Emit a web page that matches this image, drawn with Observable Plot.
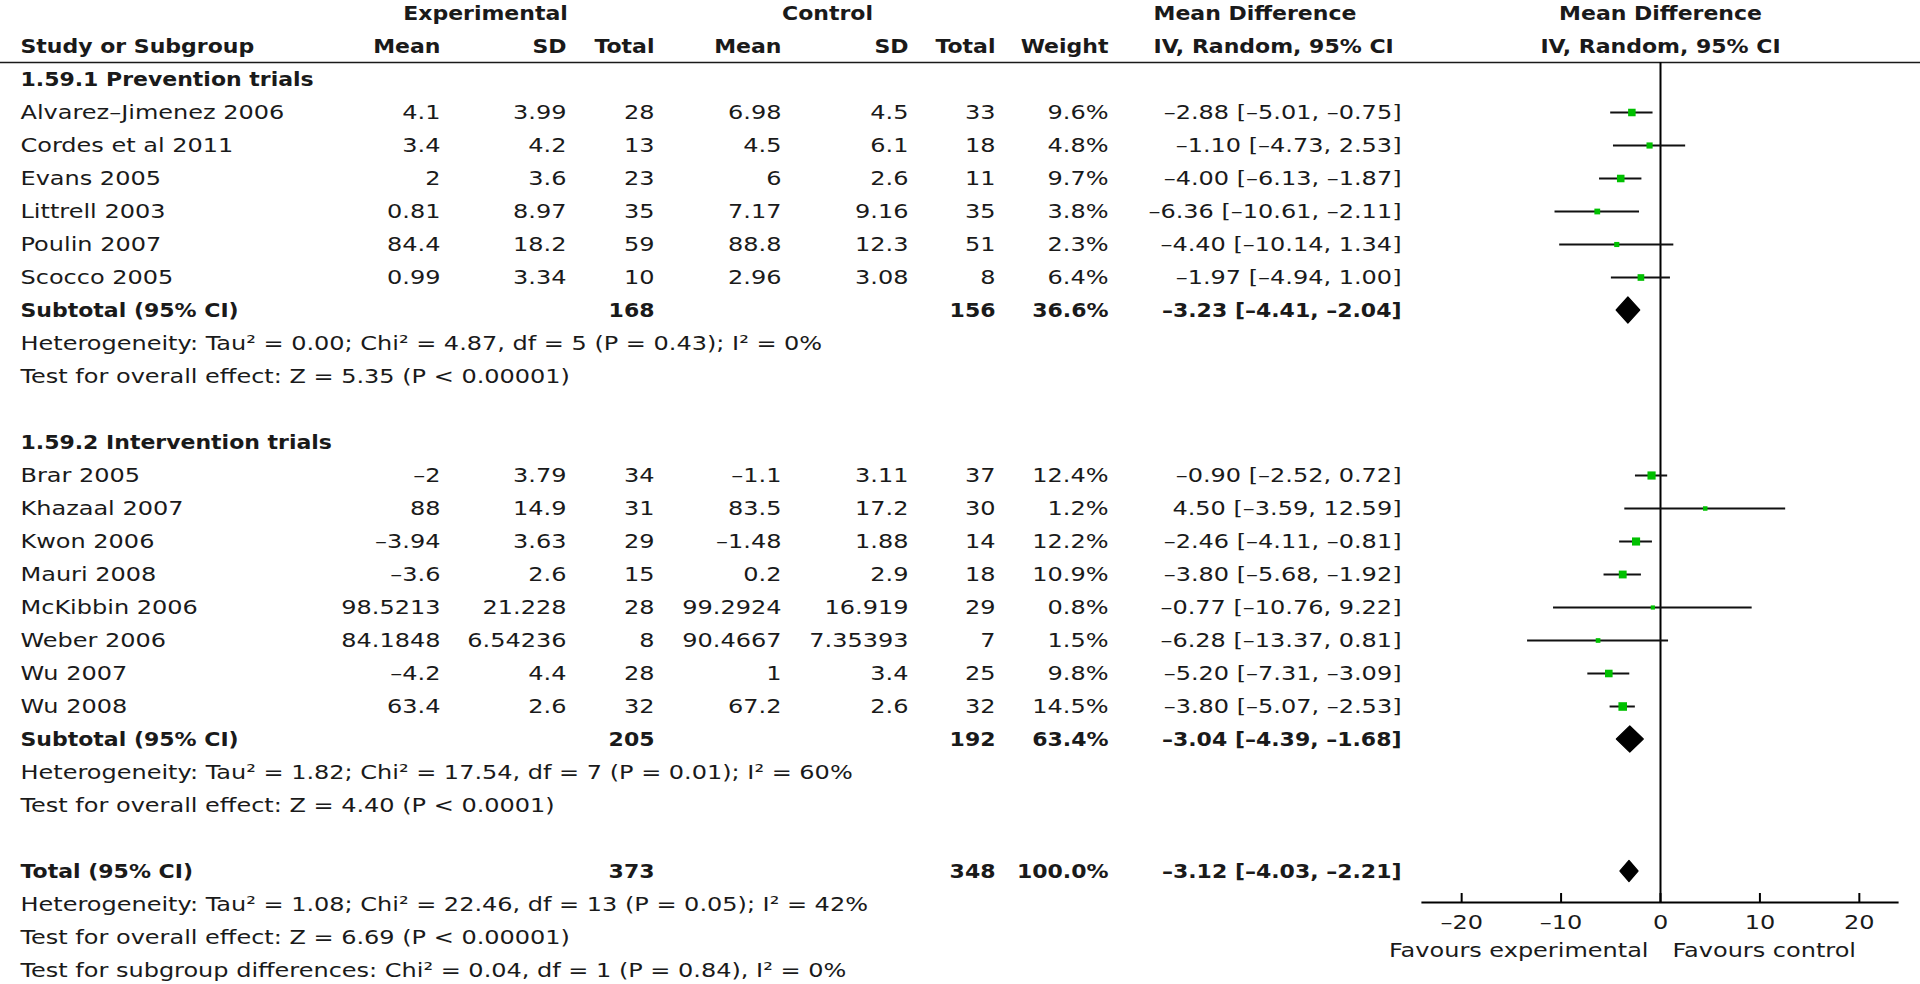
<!DOCTYPE html>
<html><head><meta charset="utf-8">
<script src="https://cdn.jsdelivr.net/npm/d3@7"></script>
<script src="https://cdn.jsdelivr.net/npm/@observablehq/plot@0.6"></script>
<style>
html,body{margin:0;padding:0;background:#fff;overflow:hidden;}
#chart svg{display:block;}
</style></head><body><div id="chart"></div>
<script>
// ---------- data ----------
const groupNames = ["1.59.1 Prevention trials", "1.59.2 Intervention trials"];
const studyNames = ["Alvarez–Jimenez 2006", "Cordes et al 2011", "Evans 2005", "Littrell 2003", "Poulin 2007", "Scocco 2005",
  "Brar 2005", "Khazaal 2007", "Kwon 2006", "Mauri 2008", "McKibbin 2006", "Weber 2006", "Wu 2007", "Wu 2008"];
const studyGroup = [0, 0, 0, 0, 0, 0, 1, 1, 1, 1, 1, 1, 1, 1];
const expMean  = [4.1, 3.4, 2, 0.81, 84.4, 0.99, -2, 88, -3.94, -3.6, 98.5213, 84.1848, -4.2, 63.4];
const expSD    = [3.99, 4.2, 3.6, 8.97, 18.2, 3.34, 3.79, 14.9, 3.63, 2.6, 21.228, 6.54236, 4.4, 2.6];
const expTotal = [28, 13, 23, 35, 59, 10, 34, 31, 29, 15, 28, 8, 28, 32];
const ctrlMean = [6.98, 4.5, 6, 7.17, 88.8, 2.96, -1.1, 83.5, -1.48, 0.2, 99.2924, 90.4667, 1, 67.2];
const ctrlSD   = [4.5, 6.1, 2.6, 9.16, 12.3, 3.08, 3.11, 17.2, 1.88, 2.9, 16.919, 7.35393, 3.4, 2.6];
const ctrlTotal = [33, 18, 11, 35, 51, 8, 37, 30, 14, 18, 29, 7, 25, 32];
const weights  = [9.6, 4.8, 9.7, 3.8, 2.3, 6.4, 12.4, 1.2, 12.2, 10.9, 0.8, 1.5, 9.8, 14.5];
const md       = [-2.88, -1.10, -4.00, -6.36, -4.40, -1.97, -0.90, 4.50, -2.46, -3.80, -0.77, -6.28, -5.20, -3.80];
const mdLower  = [-5.01, -4.73, -6.13, -10.61, -10.14, -4.94, -2.52, -3.59, -4.11, -5.68, -10.76, -13.37, -7.31, -5.07];
const mdUpper  = [-0.75, 2.53, -1.87, -2.11, 1.34, 1.00, 0.72, 12.59, -0.81, -1.92, 9.22, 0.81, -3.09, -2.53];

const subtotalExpTotal  = [168, 205];
const subtotalCtrlTotal = [156, 192];
const subtotalWeight    = [36.6, 63.4];
const subtotalMD        = [-3.23, -3.04];
const subtotalLower     = [-4.41, -4.39];
const subtotalUpper     = [-2.04, -1.68];
const heterogeneityText = [
  "Heterogeneity: Tau² = 0.00; Chi² = 4.87, df = 5 (P = 0.43); I² = 0%",
  "Heterogeneity: Tau² = 1.82; Chi² = 17.54, df = 7 (P = 0.01); I² = 60%"];
const overallEffectText = [
  "Test for overall effect: Z = 5.35 (P < 0.00001)",
  "Test for overall effect: Z = 4.40 (P < 0.0001)"];

const totalExpTotal = [373];
const totalCtrlTotal = [348];
const totalWeight = [100.0];
const totalMD = [-3.12];
const totalLower = [-4.03];
const totalUpper = [-2.21];
const totalNotes = [
  "Heterogeneity: Tau² = 1.08; Chi² = 22.46, df = 13 (P = 0.05); I² = 42%",
  "Test for overall effect: Z = 6.69 (P < 0.00001)",
  "Test for subgroup differences: Chi² = 0.04, df = 1 (P = 0.84), I² = 0%"];

const xTicks = [-20, -10, 0, 10, 20];
const axisLabels = ["Favours experimental", "Favours control"];

// ---------- formatting ----------
const dash = s => String(s).replace(/-/g, "–");
const f2 = v => dash(v.toFixed(2));
const ciText = (m, l, u) => `${f2(m)} [${f2(l)}, ${f2(u)}]`;
const wText = v => v.toFixed(1) + "%";

// ---------- table rows ----------
const rows = [];
let r = 0;
groupNames.forEach((g, gi) => {
  rows.push({row: r++, kind: "group", label: g});
  studyNames.forEach((n, i) => {
    if (studyGroup[i] !== gi) return;
    rows.push({row: r++, kind: "study", label: n,
      em: dash(expMean[i]), es: dash(expSD[i]), et: String(expTotal[i]),
      cm: dash(ctrlMean[i]), cs: dash(ctrlSD[i]), ct: String(ctrlTotal[i]),
      wt: wText(weights[i]), ci: ciText(md[i], mdLower[i], mdUpper[i]),
      est: md[i], lo: mdLower[i], hi: mdUpper[i], w: weights[i]});
  });
  rows.push({row: r++, kind: "subtotal", label: "Subtotal (95% CI)",
    et: String(subtotalExpTotal[gi]), ct: String(subtotalCtrlTotal[gi]),
    wt: wText(subtotalWeight[gi]), ci: ciText(subtotalMD[gi], subtotalLower[gi], subtotalUpper[gi]),
    est: subtotalMD[gi], lo: subtotalLower[gi], hi: subtotalUpper[gi], h: 13 / 33});
  rows.push({row: r++, kind: "note", label: heterogeneityText[gi]});
  rows.push({row: r++, kind: "note", label: overallEffectText[gi]});
  r++;
});
rows.push({row: r++, kind: "total", label: "Total (95% CI)",
  et: String(totalExpTotal[0]), ct: String(totalCtrlTotal[0]),
  wt: wText(totalWeight[0]), ci: ciText(totalMD[0], totalLower[0], totalUpper[0]),
  est: totalMD[0], lo: totalLower[0], hi: totalUpper[0], h: 10.5 / 33});
totalNotes.forEach(t => rows.push({row: r++, kind: "note", label: t}));

const studies = rows.filter(d => d.kind === "study");
const summaries = rows.filter(d => d.kind === "subtotal" || d.kind === "total");
const boldRows = rows.filter(d => d.kind !== "study" && d.kind !== "note");
const plainRows = rows.filter(d => d.kind === "study" || d.kind === "note");
const diamondPts = summaries.flatMap((d, i) => [
  {id: i, x: d.lo, y1: d.row, y2: d.row},
  {id: i, x: d.est, y1: d.row - d.h, y2: d.row + d.h},
  {id: i, x: d.hi, y1: d.row, y2: d.row}]);

// ---------- layout constants ----------
const ruleRow = -0.515, axisRow = 24.94, favRow = 26.39;
const ink = "#1a1a1a";
const FS = 20;

function col(data, key, dx, anchor, bold) {
  return Plot.text(data.filter(d => d[key] != null), {
    y: "row", text: key, frameAnchor: "left", dx, textAnchor: anchor,
    fontWeight: bold ? "bold" : "normal", fontSize: FS, fill: ink
  });
}
function head(label, row, dx, anchor) {
  return Plot.text([label], {y: () => row, text: d => d, frameAnchor: "left", dx, textAnchor: anchor,
    fontWeight: "bold", fontSize: FS, fill: ink});
}

const cols = [["em", 440], ["es", 566], ["et", 654], ["cm", 781], ["cs", 908], ["ct", 995], ["wt", 1108], ["ci", 1401]];

const marks = [
  // header
  head("Experimental", -2, 485, "middle"),
  head("Control", -2, 827, "middle"),
  head("Mean Difference", -2, 1153, "start"),
  head("Study or Subgroup", -1, 20, "start"),
  head("Mean", -1, 440, "end"), head("SD", -1, 566, "end"), head("Total", -1, 654, "end"),
  head("Mean", -1, 781, "end"), head("SD", -1, 908, "end"), head("Total", -1, 995, "end"),
  head("Weight", -1, 1108, "end"),
  head("IV, Random, 95% CI", -1, 1153, "start"),
  Plot.text(["Mean Difference"], {x: () => 0, y: () => -2, text: d => d, fontWeight: "bold", fontSize: FS, fill: ink}),
  Plot.text(["IV, Random, 95% CI"], {x: () => 0, y: () => -1, text: d => d, fontWeight: "bold", fontSize: FS, fill: ink}),
  Plot.ruleY([ruleRow], {stroke: ink, strokeWidth: 1.6}),
  // labels
  col(plainRows, "label", 20, "start", false),
  col(boldRows, "label", 20, "start", true),
  ...cols.map(([k, x]) => col(studies, k, x, "end", false)),
  ...cols.map(([k, x]) => col(summaries, k, x, "end", true)),
  // forest
  Plot.ruleX([0], {y1: ruleRow, y2: axisRow, stroke: "#000", strokeWidth: 2}),
  Plot.ruleY(studies, {y: "row", x1: "lo", x2: "hi", stroke: "#111", strokeWidth: 2}),
  Plot.dot(studies, {x: "est", y: "row", r: "w", symbol: "square", fill: "#00c000", stroke: null}),
  Plot.areaY(diamondPts, {x: "x", y1: "y1", y2: "y2", z: "id", fill: "#000", stroke: "#000", strokeWidth: 1.2, strokeLinejoin: "round"}),
  // axis
  Plot.ruleY([axisRow], {x1: -24, x2: 24, stroke: "#000", strokeWidth: 2}),
  Plot.ruleX(xTicks, {x: d => d, y1: axisRow, y2: axisRow - 9 / 33, stroke: "#000", strokeWidth: 2}),
  Plot.text(xTicks, {x: d => d, y: () => axisRow, dy: 20, text: d => dash(d), fontSize: FS, fill: ink}),
  Plot.text([axisLabels[0]], {x: () => 0, y: () => favRow, dx: -12, text: d => d, textAnchor: "end", fontSize: FS, fill: ink}),
  Plot.text([axisLabels[1]], {x: () => 0, y: () => favRow, dx: 12, text: d => d, textAnchor: "start", fontSize: FS, fill: ink})
];

const chart = Plot.plot({
  width: 1920, height: 984, margin: 0,
  style: {fontFamily: "DejaVu Sans", background: "#fff", overflow: "visible"},
  x: {domain: [-24, 24], range: [1660 - 238.6, 1660 + 238.6], axis: null},
  y: {domain: [0, 27], range: [79, 79 + 27 * 33], axis: null},
  r: {type: "pow", exponent: 0.5, domain: [0, 14.5], range: [1.6, 4.85]},
  marks
});

// widen glyphs horizontally to match the reference's wide typeface
chart.querySelectorAll("text").forEach(t => {
  const bold = t.closest("[font-weight='bold']") != null;
  const s = bold ? 1.1 : 1.2;
  const tr = t.getAttribute("transform");
  if (tr) t.setAttribute("transform", tr + ` scale(${s},1)`);
  else {
    const x = t.getAttribute("x") || 0;
    t.removeAttribute("x");
    t.setAttribute("transform", `translate(${x},0) scale(${s},1)`);
  }
});
document.getElementById("chart").append(chart);
</script>
</body></html>
